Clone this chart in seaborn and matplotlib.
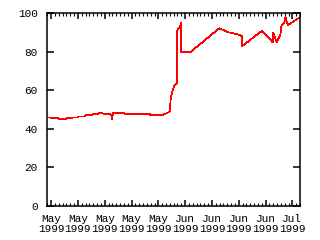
import matplotlib
matplotlib.use("Agg")
import matplotlib.pyplot as plt
import matplotlib.dates as mdates
import numpy as np
import pandas as pd
import seaborn as sns

# ---- data (days after 1999-05-01 00:00, value) ----
start_date = "1999-05-01"
day_offsets = [0.0, 0.7, 1.0, 2.8, 3.05, 4.9, 5.0, 6.4, 6.6, 8.0, 8.3, 9.8, 10.0,
               11.7, 11.8, 13.2, 13.4, 14.5, 14.8, 16.4, 16.5, 16.9, 17.0, 17.1,
               20.0, 20.3, 26.8, 26.9, 30.2, 30.5, 31.3, 32.0, 32.2, 32.5, 32.9,
               33.3, 33.8, 33.85, 34.2, 34.6, 34.9, 35.0, 37.3, 44.9, 47.4, 49.5,
               50.8, 50.9, 56.1, 58.9, 59.0, 59.9, 60.9, 61.2, 61.9, 62.2, 62.5,
               62.9, 65.8]
values = [45.9, 45.9, 45.4, 45.4, 44.9, 44.9, 45.4, 45.4, 45.9, 45.9, 46.4, 46.4, 47.0,
          47.0, 47.5, 47.5, 48.0, 48.0, 47.5, 47.5, 47.1, 47.1, 44.9, 48.0,
          48.0, 47.7, 47.7, 47.0, 47.0, 47.5, 48.2, 48.9, 55.0, 58.4, 61.0,
          62.7, 63.9, 90.4, 92.2, 92.2, 94.8, 79.7, 79.7, 92.2, 90.1, 89.2,
          88.2, 83.0, 90.9, 84.9, 90.0, 84.9, 89.2, 93.9, 95.1, 97.9, 95.6,
          93.9, 97.7]

x_start = "1999-05-01"
x_end = "1999-07-06"
xtick_dates = ["1999-05-02", "1999-05-09", "1999-05-16", "1999-05-23", "1999-05-30",
               "1999-06-06", "1999-06-13", "1999-06-20", "1999-06-27", "1999-07-04"]
xtick_labels = ["May\n1999", "May\n1999", "May\n1999", "May\n1999", "May\n1999",
                "Jun\n1999", "Jun\n1999", "Jun\n1999", "Jun\n1999", "Jul\n1999"]
ytick_values = [0, 20, 40, 60, 80, 100]
ytick_labels = ["0", "20", "40", "60", "80", "100"]

sns.set_style("white")
plt.rcParams["font.family"] = ["Liberation Mono", "DejaVu Sans Mono"]

df = pd.DataFrame({
    "time": pd.to_datetime(start_date) + pd.to_timedelta(day_offsets, unit="D"),
    "value": values,
})

fig = plt.figure(figsize=(3.2, 2.4), dpi=100)
ax = fig.add_axes([47.3 / 320, 1 - 205.7 / 240, (300 - 47.3) / 320, (205.7 - 13.3) / 240])

sns.lineplot(data=df, x="time", y="value", ax=ax, color="#ff0000",
             linewidth=0.55, estimator=None, sort=False, antialiased=False)

ax.set_xlim(pd.to_datetime(x_start), pd.to_datetime(x_end))
ax.set_ylim(0, 100)
ax.set_xticks(pd.to_datetime(xtick_dates))
ax.set_xticklabels(xtick_labels)
ax.xaxis.set_minor_locator(mdates.DayLocator())
ax.set_yticks(ytick_values)
ax.set_yticklabels(ytick_labels)
ax.set_xlabel("")
ax.set_ylabel("")

for s in ax.spines.values():
    s.set_color("black")
    s.set_linewidth(1.1)

ax.tick_params(axis="both", which="major", direction="in", length=4, width=1.1,
               color="black", labelsize=8, labelcolor="black",
               top=True, right=True, bottom=True, left=True)
ax.tick_params(axis="x", which="minor", direction="in", length=2, width=0.8,
               color="black", top=True, bottom=True)
ax.tick_params(axis="y", which="major", pad=7, length=5)
ax.tick_params(axis="x", which="major", pad=6)
for lbl in ax.get_xticklabels():
    lbl.set_linespacing(0.95)

fig.savefig("out.png", dpi=100)
